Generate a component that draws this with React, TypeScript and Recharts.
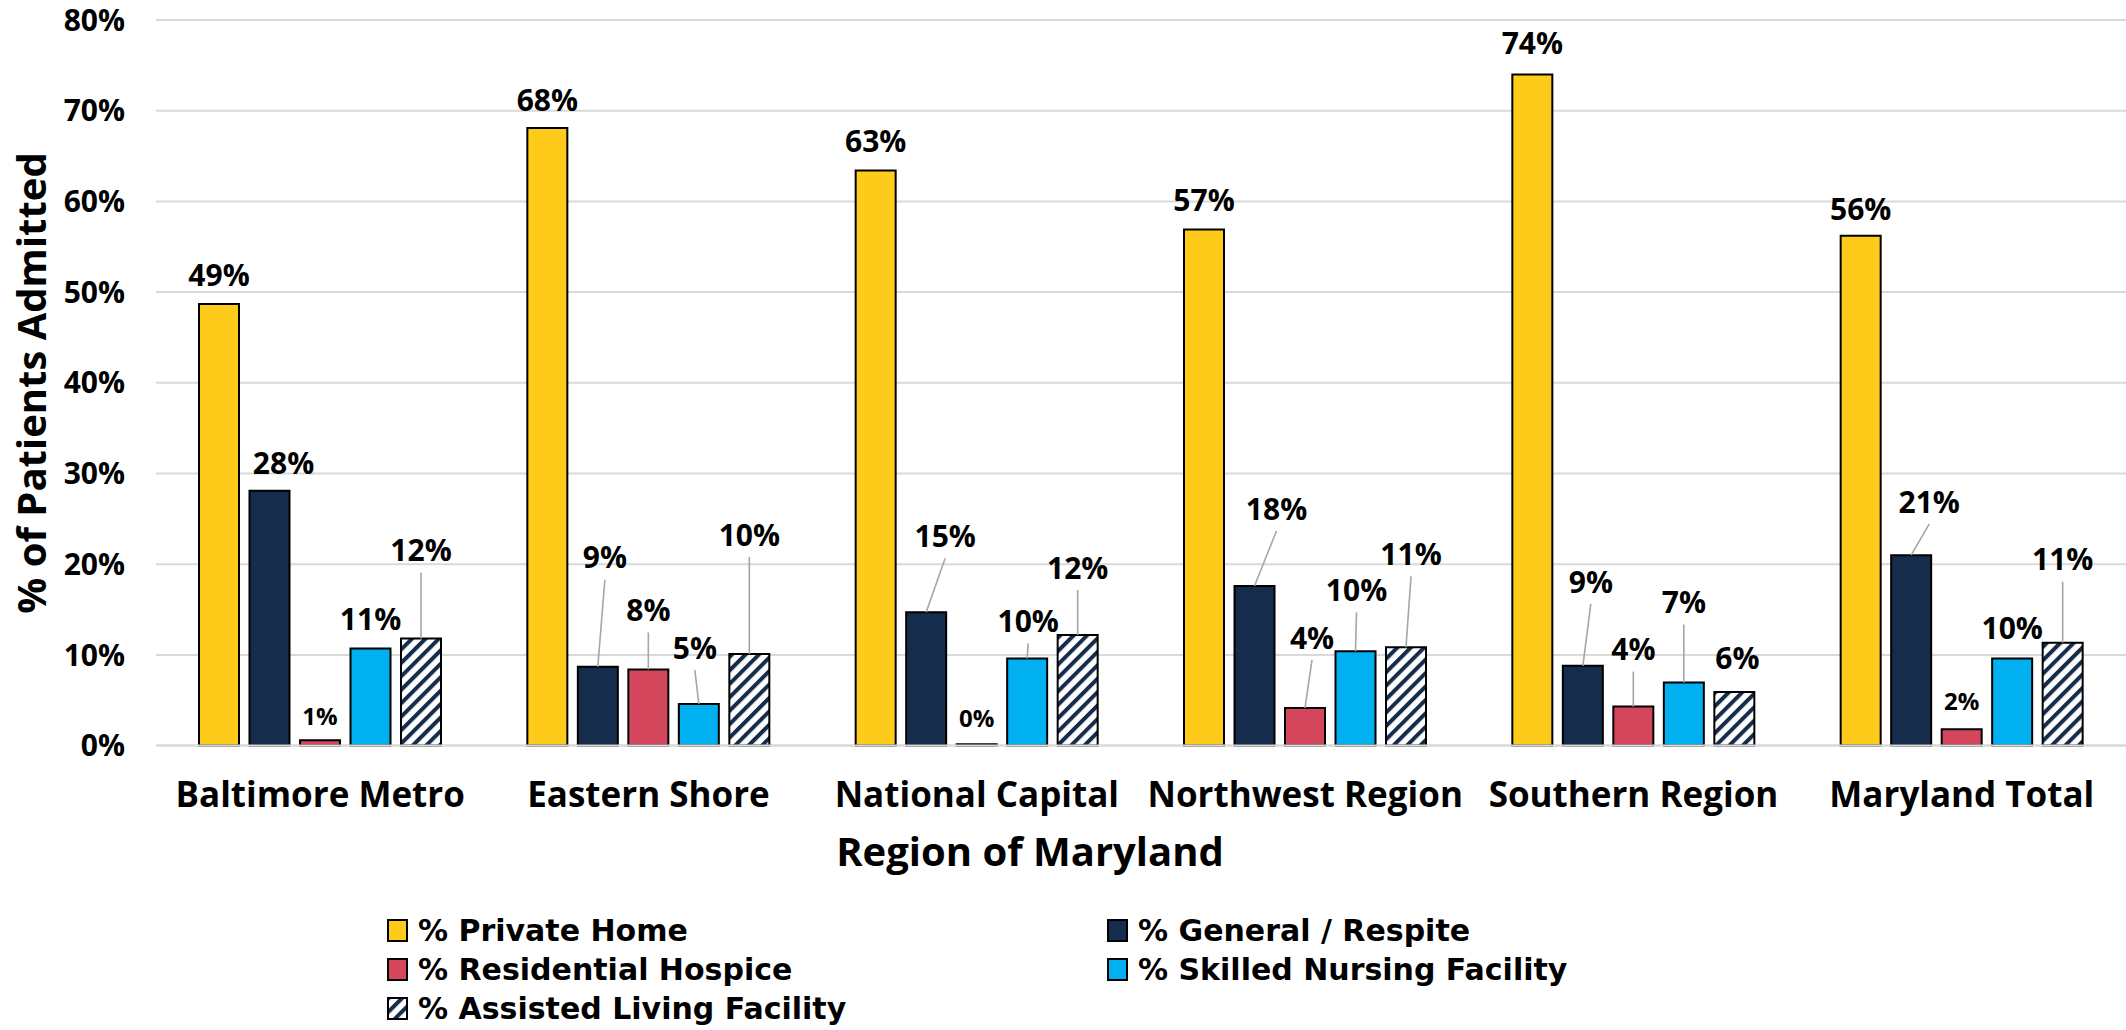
import React from 'react';
import { BarChart, Bar, XAxis, YAxis, CartesianGrid, LabelList, Legend } from 'recharts';

// ---- data (percent of patients admitted) ----
const categories = ['Baltimore Metro', 'Eastern Shore', 'National Capital', 'Northwest Region', 'Southern Region', 'Maryland Total'];
const privateHome = [48.7, 68.1, 63.4, 56.9, 74.0, 56.2];
const generalRespite = [28.1, 8.7, 14.7, 17.6, 8.8, 21.0];
const residentialHospice = [0.6, 8.4, 0.15, 4.15, 4.3, 1.8];
const skilledNursing = [10.7, 4.6, 9.6, 10.4, 6.95, 9.6];
const assistedLiving = [11.8, 10.1, 12.2, 10.85, 5.9, 11.35];
const yTicks = [0, 10, 20, 30, 40, 50, 60, 70, 80];

// ---- label placement (dx, dy from bar top centre, leader line flag) ----
const homeLabelPos = [[0, -29, 0], [0, -28, 0], [0, -29, 0], [0, -29, 0], [0, -31, 0], [0, -27, 0]];
const generalLabelPos = [[14, -28, 0], [7, -109, 1], [19, -76, 1], [22, -77, 1], [8, -84, 1], [18, -53, 1]];
const residentialLabelPos = [[0, -24, 0], [0, -59, 1], [0, -26, 0], [7, -70, 1], [0, -57, 1], [0, -28, 0]];
const skilledLabelPos = [[0, -29, 0], [-4, -56, 1], [1, -37, 1], [1, -61, 1], [0, -80, 1], [0, -30, 0]];
const assistedLabelPos = [[0, -88, 1], [0, -119, 1], [0, -67, 1], [5, -93, 1], [3, -34, 0], [0, -83, 1]];

const FONT = "'Open Sans', sans-serif";
const LEGEND_FONT = "'DejaVu Sans', sans-serif";
const YELLOW = '#FFCB1B';
const NAVY = '#152C4C';
const RED = '#D4465B';
const BLUE = '#00B0F0';

const rows = categories.map((c, i) => ({
  region: c,
  home: privateHome[i],
  general: generalRespite[i],
  residential: residentialHospice[i],
  skilled: skilledNursing[i],
  assisted: assistedLiving[i],
}));

const series = [
  { key: 'home', name: '% Private Home', fill: YELLOW, pos: homeLabelPos },
  { key: 'general', name: '% General / Respite', fill: NAVY, pos: generalLabelPos },
  { key: 'residential', name: '% Residential Hospice', fill: RED, pos: residentialLabelPos },
  { key: 'skilled', name: '% Skilled Nursing Facility', fill: BLUE, pos: skilledLabelPos },
  { key: 'assisted', name: '% Assisted Living Facility', fill: 'url(#hatchNavy)', pos: assistedLabelPos },
];

const makeLabel = (pos: number[][]) => (props: any) => {
  const vb = props.viewBox || {};
  const x = props.x ?? vb.x;
  const y = props.y ?? vb.y;
  const width = props.width ?? vb.width;
  const index = props.index ?? 0;
  const value = Number(props.value);
  if (x == null || y == null || !pos[index]) return null;
  const [dx, dy, line] = pos[index];
  const cx = x + width / 2;
  const lx = cx + dx;
  const ly = y + dy;
  const fs = value < 3 ? 24 : 30;
  return (
    <g>
      {line ? <line x1={lx} y1={ly + 22} x2={cx} y2={y} stroke="#a6a6a6" strokeWidth={1.6} /> : null}
      <text x={lx} y={ly + fs * 0.36} textAnchor="middle" fontSize={fs} fontWeight={700} fontFamily={FONT} fill="#000">
        {Math.round(value)}%
      </text>
    </g>
  );
};

const XTick = (props: any) => {
  const { x, y, payload } = props;
  return (
    <text x={x} y={y + 61} textAnchor="middle" fontSize={35} fontWeight={700} fontFamily={FONT} fill="#000">
      {payload.value}
    </text>
  );
};

const YTitle = () => (
  <text x={30} y={383} transform="rotate(-90, 30, 383)" textAnchor="middle" dominantBaseline="central"
    fontSize={40} fontWeight={700} fontFamily={FONT} fill="#000">% of Patients Admitted</text>
);

const XTitle = () => (
  <text x={1030} y={866} textAnchor="middle" fontSize={40} fontWeight={700} fontFamily={FONT} fill="#000">Region of Maryland</text>
);

const legendCols = [387, 1107];
const legendRows = [931, 970, 1009];
const legendSlots = [[0, 0], [1, 0], [0, 1], [1, 1], [0, 2]];
const LEGEND_TOP = 900;

const LegendContent = () => (
  <div style={{ position: 'relative', width: 2126, height: 130 }}>
    {series.map((s, i) => {
      const [c, r] = legendSlots[i];
      return (
        <div key={s.key} style={{ position: 'absolute', left: legendCols[c], top: legendRows[r] - LEGEND_TOP - 18, height: 36, display: 'flex', alignItems: 'center', whiteSpace: 'nowrap' }}>
          <svg width={22} height={24} style={{ marginRight: 9 }}>
            <rect x={1} y={1} width={19} height={21} fill={s.fill} stroke="#000" strokeWidth={2} />
          </svg>
          <span style={{ fontFamily: LEGEND_FONT, fontWeight: 700, fontSize: 30, color: '#000', lineHeight: '36px' }}>{s.name}</span>
        </div>
      );
    })}
  </div>
);

export default function App() {
  return (
    <div style={{ position: 'absolute', left: 0, top: 0, width: 2126, height: 1030, background: '#fff' }}>
      <svg width={0} height={0} style={{ position: 'absolute' }}>
        <defs>
          <pattern id="hatchNavy" patternUnits="userSpaceOnUse" width={9.5} height={9.5} patternTransform="rotate(45)">
            <rect x={0} y={0} width={9.5} height={9.5} fill="#fff" />
            <rect x={0} y={0} width={4} height={9.5} fill={NAVY} />
          </pattern>
        </defs>
      </svg>
      <BarChart width={2126} height={1030} data={rows} margin={{ top: 20, right: 0, left: 0, bottom: 0 }}
        barSize={40} barGap={10.5} style={{ fontFamily: FONT }}>
        <CartesianGrid vertical={false} stroke="#d9d9d9" strokeWidth={2} />
        <XAxis dataKey="region" height={284.4} tick={<XTick />} tickLine={false} tickSize={0} tickMargin={0}
          axisLine={{ stroke: '#d9d9d9', strokeWidth: 2 }} interval={0} label={<XTitle />} />
        <YAxis width={156} domain={[0, 80]} ticks={yTicks} interval={0} tickFormatter={(v: number) => `${v}%`}
          axisLine={false} tickLine={false} tickSize={0} tickMargin={31}
          tick={{ fontSize: 30, fontWeight: 700, fill: '#000', fontFamily: FONT }} label={<YTitle />} />
        <Legend layout="horizontal" verticalAlign="middle" align="center" content={<LegendContent />}
          wrapperStyle={{ position: 'absolute', left: 0, top: LEGEND_TOP, width: 2126, height: 130 }} />
        {series.map((s) => (
          <Bar key={s.key} dataKey={s.key} name={s.name} fill={s.fill} stroke="#000" strokeWidth={2} isAnimationActive={false}>
            <LabelList dataKey={s.key} content={makeLabel(s.pos)} />
          </Bar>
        ))}
      </BarChart>
    </div>
  );
}
